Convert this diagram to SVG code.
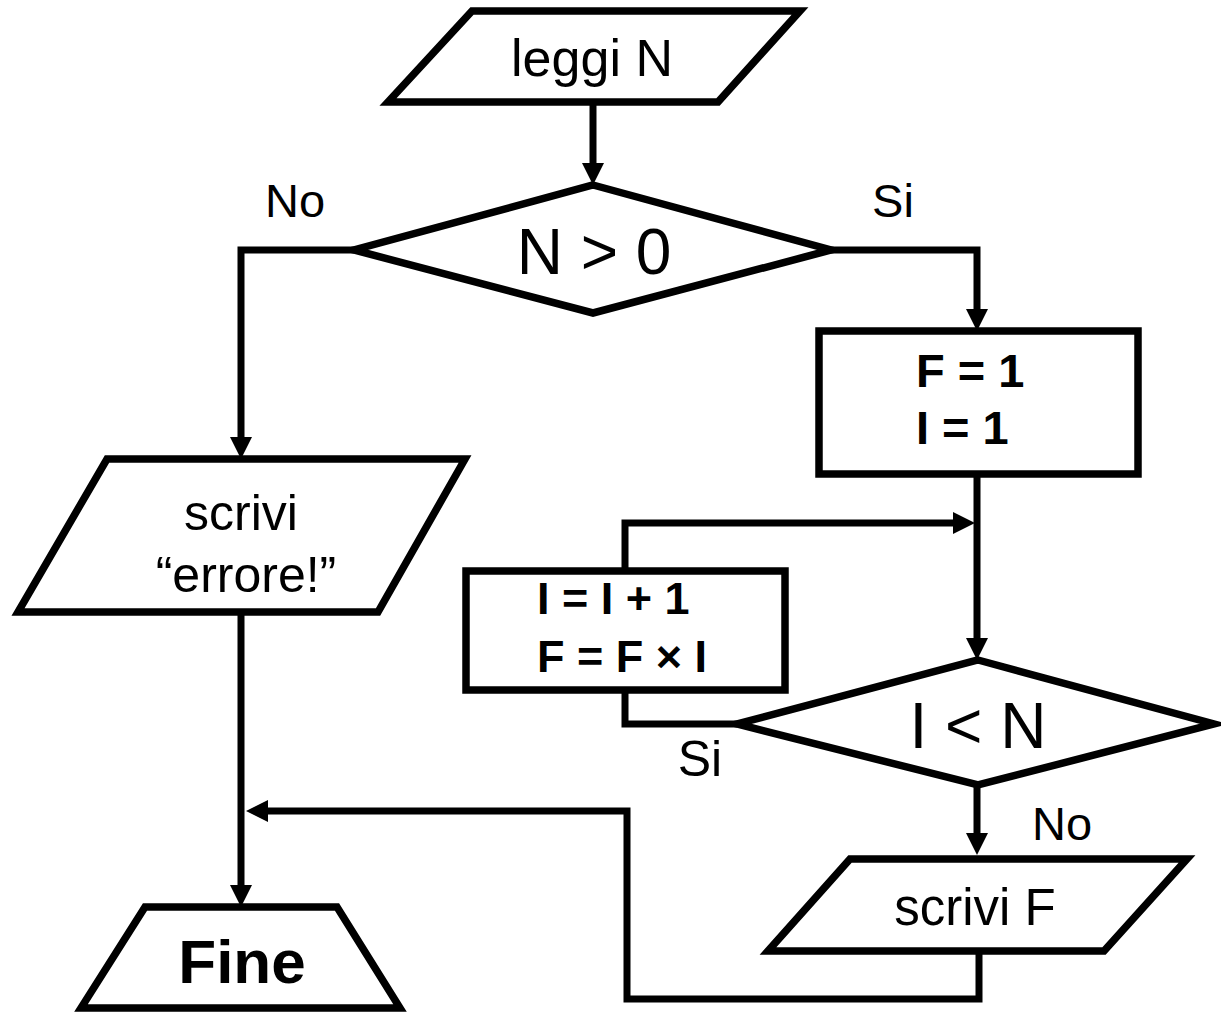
<svg xmlns="http://www.w3.org/2000/svg" width="1221" height="1015" viewBox="0 0 1221 1015">
<defs>
<marker id="ah" markerUnits="userSpaceOnUse" markerWidth="24" markerHeight="24" refX="2" refY="11" orient="auto">
<path d="M0,0 L22,11 L0,22 z" fill="#000"/>
</marker>
<style>
.shape{fill:#fff;stroke:#000;stroke-width:7.5;stroke-linejoin:miter}
.conn{fill:none;stroke:#000;stroke-width:7}
.t{font-family:"Liberation Sans",Arial,sans-serif;fill:#000}
.b{font-weight:bold}
</style>
</defs>
<rect width="1221" height="1015" fill="#fff"/>
<g id="connectors">
<path class="conn" d="M593,102 V165" marker-end="url(#ah)"/>
<path class="conn" d="M354,250 H241 V439" marker-end="url(#ah)"/>
<path class="conn" d="M831,250 H977 V311" marker-end="url(#ah)"/>
<path class="conn" d="M977,474 V640" marker-end="url(#ah)"/>
<path class="conn" d="M625,571 V523 H955" marker-end="url(#ah)"/>
<path class="conn" d="M737,724 H625 V690"/>
<path class="conn" d="M977,785 V835" marker-end="url(#ah)"/>
<path class="conn" d="M979,951 V999 H627 V811 H266" marker-end="url(#ah)"/>
<path class="conn" d="M241,612 V887" marker-end="url(#ah)"/>
</g>
<g id="leggiN">
<polygon class="shape" points="472,11 800,11 718,102 388,102"/>
<text class="t" x="592" y="76" font-size="52" text-anchor="middle">leggi N</text>
</g>
<g id="decN0">
<polygon class="shape" points="593,185 831,250 593,313 354,250"/>
<text class="t" x="594" y="274" font-size="64" text-anchor="middle">N &gt; 0</text>
</g>
<text class="t" x="295" y="217" font-size="47" text-anchor="middle">No</text>
<text class="t" x="893" y="217" font-size="47" text-anchor="middle">Si</text>
<g id="init">
<rect class="shape" x="819" y="331" width="319" height="143"/>
<text class="t b" x="916" y="387" font-size="47">F = 1</text>
<text class="t b" x="916" y="444" font-size="47">I = 1</text>
</g>
<g id="incr">
<rect class="shape" x="466" y="571" width="319" height="119"/>
<text class="t b" x="537" y="614" font-size="45">I = I + 1</text>
<text class="t b" x="537" y="672" font-size="45">F = F × I</text>
</g>
<g id="decIN">
<polygon class="shape" points="978,660 1214,724 978,785 737,724"/>
<text class="t" x="978" y="748" font-size="64" text-anchor="middle">I &lt; N</text>
</g>
<text class="t" x="700" y="776" font-size="50" text-anchor="middle">Si</text>
<text class="t" x="1062" y="840" font-size="47" text-anchor="middle">No</text>
<g id="scriviF">
<polygon class="shape" points="850,859 1187,859 1104,951 768,951"/>
<text class="t" x="975" y="925" font-size="51" text-anchor="middle">scrivi F</text>
</g>
<g id="errore">
<polygon class="shape" points="107,459 465,459 378,612 18,612"/>
<text class="t" x="241" y="530" font-size="50" text-anchor="middle">scrivi</text>
<text class="t" x="246" y="592" font-size="50" text-anchor="middle">“errore!”</text>
</g>
<g id="fine">
<polygon class="shape" points="145,907 337,907 400,1008 81,1008"/>
<text class="t b" x="242" y="983" font-size="62" text-anchor="middle">Fine</text>
</g>
</svg>
